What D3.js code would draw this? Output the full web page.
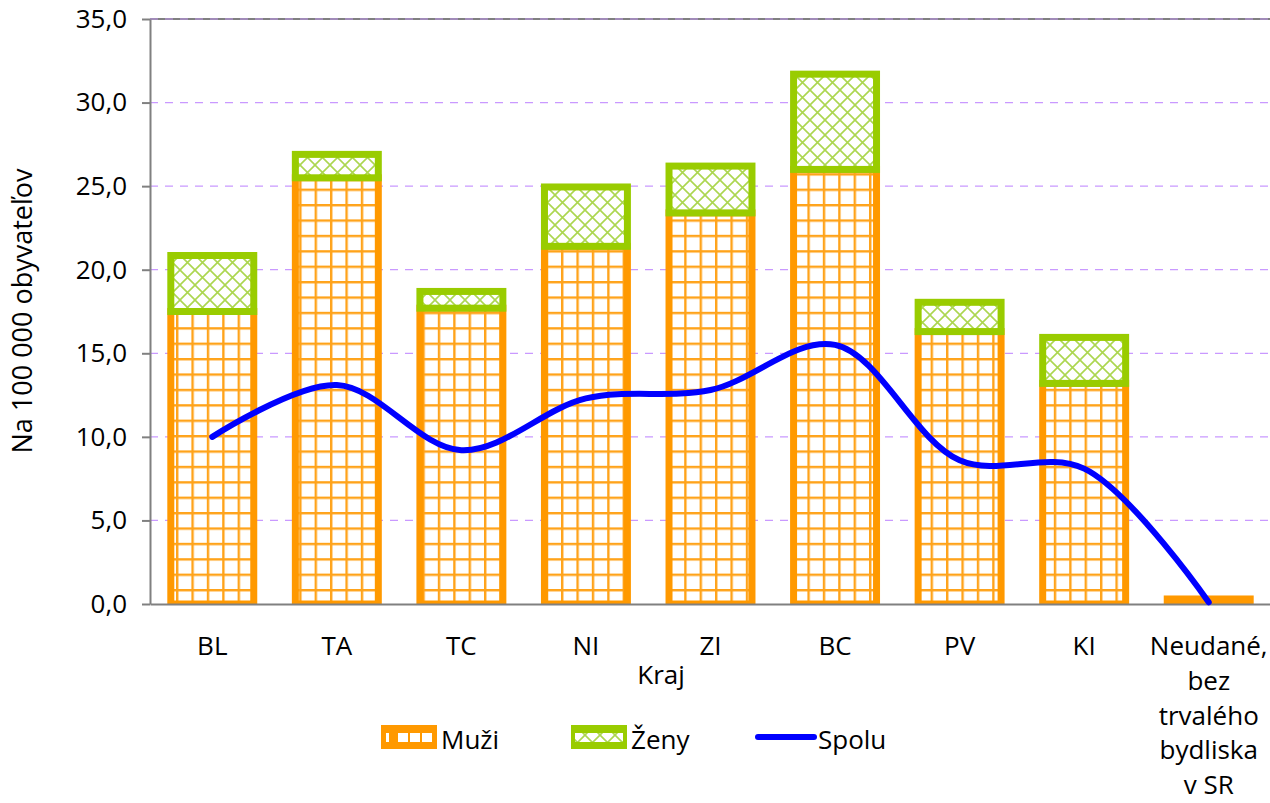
<!DOCTYPE html>
<html>
<head>
<meta charset="utf-8">
<script src="https://cdn.jsdelivr.net/npm/d3@7.9.0/dist/d3.min.js"></script>
<style>
  body { margin: 0; background: #fff; }
  text { font-family: "Open Sans", sans-serif; fill: #000; }
</style>
</head>
<body>
<svg id="chart" width="1270" height="803"></svg>
<script>
const categories = ['BL', 'TA', 'TC', 'NI', 'ZI', 'BC', 'PV', 'KI', 'Neudané, bez trvalého bydliska v SR'];
const muzi = [17.5, 25.5, 17.7, 21.4, 23.4, 26.0, 16.3, 13.2, 0.3];
const zeny = [3.35, 1.4, 1.0, 3.55, 2.8, 5.7, 1.75, 2.75, 0];
const spolu = [10.0, 13.1, 9.2, 12.3, 12.8, 15.5, 8.6, 8.1, 0.1];
const yTicks = [0, 5, 10, 15, 20, 25, 30, 35];
const legendItems = ['Muži', 'Ženy', 'Spolu'];

const orange = '#FF9900';
const green = '#99CC00';
const blue = '#0000FF';
const gray = '#808080';

const plot = { left: 150, right: 1271, top: 19, bottom: 604 };
const svg = d3.select('#chart');

const x = d3.scaleBand()
  .domain(categories)
  .range([plot.left, plot.right])
  .paddingInner(0.334)
  .paddingOuter(0.167);

const y = d3.scaleLinear().domain([0, 35]).range([plot.bottom, plot.top]);
const fmt = (d) => d.toFixed(1).replace('.', ',');

// patterns
const defs = svg.append('defs');

let pm = defs.append('pattern')
  .attr('id', 'pMuzi')
  .attr('patternUnits', 'userSpaceOnUse')
  .attr('x', 176).attr('y', 589)
  .attr('width', 15.4).attr('height', 15.4);
pm.append('rect').attr('width', 15.4).attr('height', 15.4).attr('fill', '#fff');
pm.append('rect').attr('width', 2.4).attr('height', 15.4).attr('fill', '#ffa31a');
pm.append('rect').attr('width', 15.4).attr('height', 2.4).attr('fill', '#ffa31a');

let pz = defs.append('pattern')
  .attr('id', 'pZeny')
  .attr('patternUnits', 'userSpaceOnUse')
  .attr('x', 0).attr('y', 0)
  .attr('width', 15).attr('height', 15);
pz.append('rect').attr('width', 15).attr('height', 15).attr('fill', '#fff');
pz.append('path')
  .attr('d', 'M-2,-2L17,17M17,-2L-2,17')
  .attr('stroke', '#acd650')
  .attr('stroke-width', 1.6)
  .attr('fill', 'none');

defs.append('clipPath').attr('id', 'plotClip')
  .append('rect').attr('x', 0).attr('y', 0).attr('width', 1270).attr('height', plot.bottom);

// gridlines
svg.append('line')
  .attr('x1', plot.left).attr('x2', 1270)
  .attr('y1', y(35)).attr('y2', y(35))
  .attr('stroke', gray).attr('stroke-width', 2);

svg.append('g')
  .selectAll('line')
  .data(yTicks.filter((d) => d > 0))
  .join('line')
  .attr('x1', plot.left).attr('x2', 1270)
  .attr('y1', (d) => y(d)).attr('y2', (d) => y(d))
  .attr('stroke', '#c999ff')
  .attr('stroke-opacity', (d) => (d === 35 ? 0.6 : 1))
  .attr('stroke-width', 1.3)
  .attr('stroke-dasharray', '8,7');

// bars
const bars = svg.append('g').attr('clip-path', 'url(#plotClip)');

bars.selectAll('rect.muzi')
  .data(categories)
  .join('rect')
  .attr('class', 'muzi')
  .attr('x', (d) => x(d))
  .attr('width', x.bandwidth())
  .attr('y', (d, i) => y(muzi[i]))
  .attr('height', (d, i) => y(0) - y(muzi[i]))
  .attr('fill', 'url(#pMuzi)')
  .attr('stroke', orange)
  .attr('stroke-width', 7);

bars.selectAll('rect.zeny')
  .data(categories.filter((d, i) => zeny[i] > 0))
  .join('rect')
  .attr('class', 'zeny')
  .attr('x', (d) => x(d))
  .attr('width', x.bandwidth())
  .attr('y', (d) => {
    let i = categories.indexOf(d);
    return y(muzi[i] + zeny[i]);
  })
  .attr('height', (d) => {
    let i = categories.indexOf(d);
    return y(muzi[i]) - y(muzi[i] + zeny[i]);
  })
  .attr('fill', 'url(#pZeny)')
  .attr('stroke', green)
  .attr('stroke-width', 7);

// axes
const yAxis = svg.append('g')
  .attr('transform', `translate(${plot.left},0)`)
  .call(d3.axisLeft(y).tickValues(yTicks).tickFormat(fmt).tickSize(8).tickSizeOuter(0).tickPadding(15));
yAxis.select('.domain').attr('stroke', gray).attr('stroke-width', 2);
yAxis.selectAll('.tick line').attr('stroke', gray).attr('stroke-width', 2);
yAxis.selectAll('.tick text').style('font-size', '26px').attr('font-family', null);

const xAxis = svg.append('g')
  .attr('transform', `translate(0,${plot.bottom})`)
  .call(d3.axisBottom(x).tickSize(0).tickPadding(33));
xAxis.select('.domain').attr('stroke', gray).attr('stroke-width', 2);
xAxis.selectAll('.tick text').style('font-size', '26px').attr('font-family', null)
  .each(function (d) {
    let t = d3.select(this);
    let words = d.split(' ');
    if (words.length < 2) return;
    // wrap to roughly the bar width
    let lines = [];
    let cur = [];
    words.forEach((w) => {
      cur.push(w);
      t.text(cur.join(' '));
      if (this.getComputedTextLength() > 108 && cur.length > 1) {
        cur.pop();
        lines.push(cur.join(' '));
        cur = [w];
      }
    });
    lines.push(cur.join(' '));
    t.text(null);
    lines.forEach((line, k) => {
      t.append('tspan').attr('x', 0).attr('dy', k === 0 ? '0.71em' : '1.33em').text(line);
    });
  });

// spolu line
const line = d3.line()
  .x((d, i) => x(categories[i]) + x.bandwidth() / 2)
  .y((d) => y(d))
  .curve(d3.curveCatmullRom.alpha(0.5));

svg.append('path')
  .datum(spolu)
  .attr('d', line)
  .attr('fill', 'none')
  .attr('stroke', blue)
  .attr('stroke-width', 6)
  .attr('stroke-linecap', 'round');

// axis titles
svg.append('text')
  .attr('transform', 'rotate(-90)')
  .attr('x', -311)
  .attr('y', 32)
  .attr('text-anchor', 'middle')
  .style('font-size', '27px')
  .text('Na 100 000 obyvateľov');

svg.append('text')
  .attr('x', 661)
  .attr('y', 684)
  .attr('text-anchor', 'middle')
  .style('font-size', '26px')
  .text('Kraj');

// legend
const legend = svg.append('g');
const lx = [381, 571, 758];

// Muži swatch
legend.append('rect').attr('x', lx[0]).attr('y', 725).attr('width', 56).attr('height', 24).attr('fill', orange);
[0, 1, 2, 3].forEach((k) => {
  legend.append('rect')
    .attr('x', lx[0] + 5 + k * 12).attr('y', 733)
    .attr('width', k === 0 ? 3 : 10).attr('height', 9)
    .attr('fill', '#fff');
});
// Ženy swatch
legend.append('rect').attr('x', lx[1]).attr('y', 725).attr('width', 56).attr('height', 24).attr('fill', green);
legend.append('rect').attr('x', lx[1] + 4).attr('y', 733).attr('width', 48).attr('height', 9).attr('fill', 'url(#pZeny)');
// Spolu swatch
legend.append('line')
  .attr('x1', lx[2]).attr('x2', lx[2] + 56)
  .attr('y1', 737).attr('y2', 737)
  .attr('stroke', blue).attr('stroke-width', 6).attr('stroke-linecap', 'round');

legend.selectAll('text')
  .data(legendItems)
  .join('text')
  .attr('x', (d, i) => lx[i] + 60)
  .attr('y', 749)
  .style('font-size', '26px')
  .text((d) => d);
</script>
</body>
</html>
